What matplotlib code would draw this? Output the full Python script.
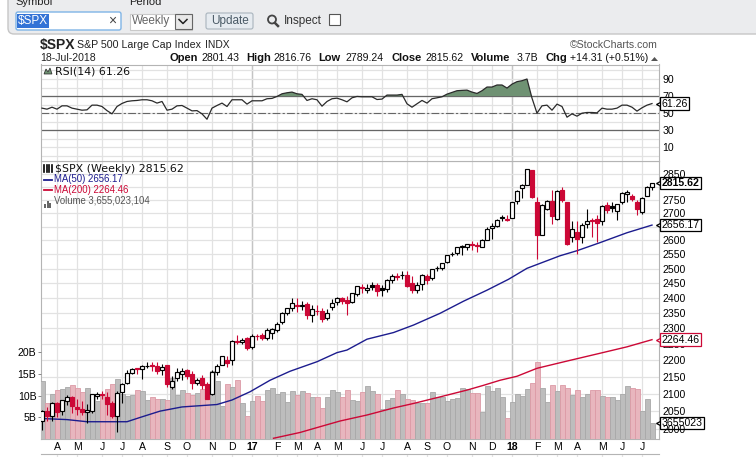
import matplotlib
matplotlib.use('agg')
import matplotlib.pyplot as plt
import numpy as np
from matplotlib.patches import FancyBboxPatch, Rectangle, Circle, Polygon

plt.rcParams['font.family'] = ['Liberation Sans', 'DejaVu Sans']

# weekly candles, $SPX
opens = [2022, 2049, 2037, 2073, 2050, 2078, 2090, 2063, 2057, 2047,
         2051, 2095, 2100, 2091, 2073, 2037, 2104, 2132, 2163, 2177,
         2173, 2183, 2186, 2184, 2171, 2187, 2120, 2148, 2160, 2170,
         2160, 2133, 2148, 2130, 2100, 2165, 2186, 2200, 2200, 2260,
         2258, 2270, 2241, 2277, 2278, 2271, 2286, 2294, 2320, 2350,
         2365, 2376, 2374, 2381, 2345, 2358, 2357, 2335, 2369, 2388,
         2400, 2393, 2387, 2414, 2437, 2425, 2445, 2442, 2432, 2429,
         2462, 2475, 2478, 2479, 2450, 2428, 2447, 2475, 2467, 2503,
         2503, 2523, 2551, 2554, 2578, 2578, 2588, 2582, 2578, 2603,
         2645, 2652, 2685, 2680, 2684, 2745, 2798, 2810, 2867, 2741,
         2621, 2715, 2745, 2680, 2791, 2742, 2611, 2629, 2611, 2660,
         2675, 2680, 2670, 2731, 2727, 2708, 2742, 2775, 2765, 2743,
         2705, 2764, 2802]
highs = [2052, 2062, 2076, 2075, 2083, 2096, 2095, 2084, 2080, 2070,
         2100, 2105, 2107, 2104, 2078, 2108, 2132, 2170, 2178, 2178,
         2187, 2194, 2194, 2195, 2188, 2187, 2152, 2176, 2176, 2173,
         2169, 2148, 2155, 2135, 2170, 2190, 2215, 2215, 2262, 2278,
         2270, 2274, 2283, 2283, 2285, 2301, 2300, 2320, 2352, 2368,
         2401, 2400, 2391, 2385, 2375, 2378, 2366, 2362, 2398, 2403,
         2403, 2406, 2416, 2440, 2446, 2446, 2453, 2450, 2445, 2463,
         2481, 2484, 2491, 2491, 2475, 2453, 2480, 2480, 2500, 2508,
         2520, 2549, 2557, 2575, 2584, 2588, 2598, 2593, 2604, 2650,
         2665, 2679, 2695, 2695, 2743, 2790, 2812, 2873, 2868, 2763,
         2735, 2750, 2790, 2790, 2802, 2742, 2670, 2672, 2665, 2717,
         2684, 2695, 2732, 2743, 2742, 2736, 2780, 2791, 2775, 2750,
         2763, 2804, 2817]
lows = [1998, 2022, 2023, 2033, 2039, 2068, 2045, 2039, 2039, 2016,
        2045, 2085, 2086, 2040, 2030, 1992, 2072, 2130, 2158, 2158,
        2145, 2176, 2168, 2160, 2155, 2119, 2115, 2139, 2140, 2145,
        2115, 2125, 2115, 2084, 2096, 2155, 2186, 2180, 2187, 2250,
        2252, 2233, 2234, 2262, 2265, 2262, 2268, 2290, 2316, 2345,
        2357, 2355, 2360, 2330, 2322, 2345, 2322, 2328, 2360, 2378,
        2381, 2345, 2382, 2405, 2415, 2415, 2425, 2405, 2407, 2420,
        2450, 2462, 2465, 2437, 2417, 2417, 2428, 2447, 2460, 2490,
        2496, 2520, 2545, 2547, 2547, 2566, 2566, 2557, 2575, 2602,
        2605, 2650, 2673, 2673, 2682, 2737, 2758, 2808, 2759, 2533,
        2620, 2713, 2660, 2675, 2741, 2585, 2594, 2553, 2590, 2646,
        2613, 2594, 2655, 2703, 2705, 2676, 2735, 2743, 2748, 2692,
        2698, 2764, 2789]
closes = [2049, 2036, 2073, 2048, 2081, 2092, 2065, 2057, 2047, 2052,
          2099, 2099.1, 2096, 2071, 2037, 2103, 2130, 2162, 2175, 2174,
          2183, 2184, 2183.9, 2169, 2180, 2128, 2139, 2165, 2168, 2154,
          2133, 2141, 2126, 2085, 2164, 2182, 2213, 2192, 2260, 2258,
          2264, 2239, 2277, 2275, 2271, 2295, 2297, 2316, 2351, 2367,
          2383, 2373, 2378, 2344, 2363, 2356, 2329, 2349, 2384, 2399,
          2391, 2382, 2416, 2439, 2432, 2433, 2438, 2423, 2425, 2459,
          2473, 2472, 2477, 2441, 2426, 2443, 2477, 2461, 2500, 2502,
          2519, 2549, 2553, 2575, 2581, 2588, 2582, 2579, 2602, 2642,
          2652, 2676, 2683, 2674, 2743, 2786, 2810, 2873, 2762, 2620,
          2732, 2747, 2691, 2787, 2752, 2588, 2641, 2604, 2656, 2670.14,
          2669.91, 2663, 2728, 2713, 2721, 2735, 2779, 2780, 2755, 2718,
          2760, 2801, 2815.62]
volumes = [13.4, 8.2, 10.5, 11.3, 11.5, 11.9, 12.4, 11.8, 10.8, 11.7,
           10.5, 8.8, 10.2, 11.5, 12.7, 13.8, 10.4, 10.0, 10.2, 11.4,
           11.2, 9.0, 9.7, 9.2, 9.3, 9.1, 14.0, 10.2, 11.4, 10.6,
           10.2, 10.6, 11.6, 12.8, 15.8, 13.5, 7.7, 12.8, 12.0, 13.7,
           8.3, 5.4, 8.8, 10.0, 8.8, 11.4, 11.8, 10.5, 10.8, 8.5,
           11.0, 10.2, 11.0, 10.6, 9.6, 9.7, 7.2, 9.7, 11.4, 10.8,
           9.7, 11.4, 9.1, 8.8, 10.8, 12.2, 11.2, 10.5, 6.9, 9.1,
           9.5, 11.4, 10.4, 9.2, 9.1, 8.2, 8.3, 8.3, 10.8, 9.8,
           9.6, 8.8, 9.2, 9.5, 11.8, 11.5, 10.6, 10.6, 6.2, 12.3,
           11.2, 11.8, 9.7, 4.8, 8.5, 10.4, 10.0, 11.5, 12.9, 17.8,
           11.8, 8.5, 12.5, 11.0, 12.5, 11.8, 10.2, 11.3, 9.7, 10.4,
           11.3, 11.3, 9.9, 9.7, 9.7, 9.0, 10.4, 12.2, 11.8, 11.5,
           6.5, 9.2, 3.655]
rsi = [55.9, 54.7, 57.0, 54.7, 58.6, 58.6, 55.9, 54.7, 53.5, 53.9,
       59.4, 59.4, 57.8, 53.0, 49.2, 57.8, 61.4, 63.7, 64.5, 64.9,
       65.7, 65.7, 64.5, 61.8, 63.7, 53.5, 54.7, 58.6, 59.0, 55.9,
       52.7, 53.0, 49.2, 42.9, 55.9, 59.0, 61.8, 57.8, 65.7, 65.7,
       65.7, 60.6, 64.5, 64.5, 64.5, 66.9, 67.3, 69.6, 72.7, 73.9,
       74.7, 72.7, 72.0, 64.9, 66.9, 65.7, 58.2, 63.7, 66.9, 67.6,
       65.7, 63.3, 68.0, 69.6, 69.2, 69.2, 69.2, 66.0, 66.5, 71.2,
       71.2, 71.2, 72.0, 61.0, 57.0, 61.0, 64.9, 61.8, 66.9, 68.0,
       69.2, 72.3, 74.3, 76.3, 76.7, 77.0, 74.7, 73.1, 76.3, 80.6,
       80.6, 83.0, 83.0, 79.4, 84.0, 86.9, 88.0, 90.0, 67.6, 50.0,
       58.6, 59.4, 53.5, 60.6, 57.8, 45.3, 49.2, 46.5, 50.0, 50.8,
       50.8, 50.4, 55.9, 54.7, 54.7, 55.9, 59.4, 59.4, 57.0, 52.4,
       56.3, 59.4, 61.26]

ma50_x = [0, 5, 9, 15, 17, 19.6, 23.6, 28, 35, 38, 41.6, 45.6, 49.6, 55, 59, 61, 65,
          70.3, 74.3, 79.6, 84.3, 89, 93.3, 97, 103.6, 107, 111.6, 117, 122]
ma50 = [2029, 2026, 2020, 2020, 2020, 2032, 2050, 2062, 2069, 2082, 2106, 2140, 2167,
        2196, 2224, 2232, 2266, 2287, 2311, 2349, 2389, 2426, 2463, 2501, 2545, 2563,
        2592, 2628, 2656.17]
ma200_x = [46.3, 48.3, 51.6, 55.6, 59.6, 65, 70.3, 74.3, 79.6, 85, 88.3, 91.6, 95, 99,
           105, 111.6, 117, 122]
ma200 = [1974, 1980, 1990, 2006, 2022, 2039, 2059, 2072, 2091, 2111, 2125, 2140, 2152,
         2176, 2198, 2222, 2242, 2264.46]

month_pos = [3, 7, 12, 16, 20, 25, 29, 34, 38, 42, 47, 51, 55, 59, 64, 68, 73, 77, 81,
             86, 90, 94, 99, 103, 107, 112, 116, 120]
month_labels = ['A', 'M', 'J', 'J', 'A', 'S', 'O', 'N', 'D', '17', 'F', 'M', 'A', 'M',
                'J', 'J', 'A', 'S', 'O', 'N', 'D', '18', 'F', 'M', 'A', 'M', 'J', 'J']
price_ticks = [2000, 2050, 2100, 2150, 2200, 2250, 2300, 2350, 2400, 2450, 2500, 2550,
               2600, 2650, 2700, 2750, 2800, 2850]
price_labels = ['2000', '2050', '2100', '2150', '2200', '2250', '2300', '2350', '2400', '2450',
                '2500', '2550', '2600', '', '2700', '2750', '', '2850']
vol_ticks = [5, 10, 15, 20]
vol_labels = ['5B', '10B', '15B', '20B']
rsi_ticks = [10, 30, 50, 70, 90]

W, H = 756, 457
fig = plt.figure(figsize=(W / 100, H / 100), dpi=100, facecolor='white')


def px_axes(x0, y0, x1, y1, **kw):
    # axes placed in pixel coords, y measured from the top
    return fig.add_axes([x0 / W, 1 - y1 / H, (x1 - x0) / W, (y1 - y0) / H], **kw)


L, R = 40.5, 658.5
xlim = (-0.3, 123.3)
x = np.arange(len(closes))
opens = np.array(opens, float)
closes = np.array(closes, float)
highs = np.array(highs, float)
lows = np.array(lows, float)
volumes = np.array(volumes)
prev = np.r_[closes[0] - 1, closes[:-1]]
is_up = closes >= prev
hollow = closes > opens
GRID = '#e2e2e2'
FRAME = '#b4b4b4'
RED = '#cc0836'
BLUE = '#1c1c8e'
TXT = 7.6

# page chrome in pixel coords
ui = fig.add_axes([0, 0, 1, 1], zorder=0)
ui.set_xlim(0, W)
ui.set_ylim(H, 0)
ui.axis('off')
ui.add_patch(FancyBboxPatch((8, -20), 760, 54, boxstyle='round,pad=0,rounding_size=6',
                            fc='#ebecee', ec='#c6c6c6', lw=1))
ui.text(15, 2, 'Symbol', fontsize=8, va='center', color='#222222')
ui.text(129, 2, 'Period', fontsize=8, va='center', color='#222222')
ui.add_patch(FancyBboxPatch((16, 12), 105, 18, boxstyle='round,pad=0,rounding_size=2',
                            fc='white', ec='#7fb4e6', lw=1))
ui.add_patch(Rectangle((17, 14), 32, 14, fc='#3373d6', ec='none'))
ui.text(18, 21, '$SPX', fontsize=8.5, color='white', va='center', parse_math=False)
ui.text(112, 21, '×', fontsize=10, color='#444444', ha='center', va='center')
ui.add_patch(Rectangle((129.5, 13.5), 62, 16, fc='white', ec='#c9c9c9', lw=0.8))
ui.text(132, 21, 'Weekly', fontsize=8.5, color='#666666', va='center')
ui.add_patch(Rectangle((174.5, 13.5), 17, 15, fc='#e8e8e8', ec='#666666', lw=0.8))
ui.plot([179, 183, 187], [19.5, 23.5, 19.5], color='#222222', lw=1.1)
ui.add_patch(FancyBboxPatch((206, 13), 47, 16, boxstyle='round,pad=0,rounding_size=2',
                            fc='#e6ebf0', ec='#a9b4bd', lw=0.8))
ui.text(229.5, 21, 'Update', fontsize=8.5, color='#4a5a66', ha='center', va='center')
ui.add_patch(Circle((272, 19.5), 4, fc='none', ec='#444444', lw=1.3))
ui.plot([275, 278], [23, 26], color='#444444', lw=1.8)
ui.text(284, 21, 'Inspect', fontsize=8.5, color='#333333', va='center')
ui.add_patch(Rectangle((329, 14), 11, 11, fc='white', ec='#555555', lw=0.8))

ui.text(40, 45, '$SPX', fontsize=10, fontweight='bold', va='center', color='#222222', parse_math=False)
ui.text(77, 45, 'S&P 500 Large Cap Index', fontsize=7.7, va='center', color='#222222')
ui.text(205, 45, 'INDX', fontsize=7.4, va='center', color='#222222')
ui.text(40, 58, '18-Jul-2018', fontsize=TXT, va='center', color='#222222')
header = [(170, 'Open', True), (202, '2801.43', False), (246, 'High', True), (273, '2816.76', False),
          (318, 'Low', True), (345, '2789.24', False), (391, 'Close', True), (425, '2815.62', False),
          (471, 'Volume', True), (517, '3.7B', False), (545, 'Chg', True), (570, '+14.31 (+0.51%)', False)]
for hx, txt, bold in header:
    ui.text(hx, 58, txt, fontsize=8 if bold else TXT, fontweight='bold' if bold else 'normal',
            va='center', color='#111111')
ui.add_patch(Polygon([[651, 61], [658, 61], [654.5, 57]], fc='#555555', ec='none'))
ui.text(658, 45, '©StockCharts.com', fontsize=7.6, ha='right', va='center', color='#555555')

# rsi panel
ax_r = px_axes(L, 64.5, R, 161, zorder=2)
ax_r.set_xlim(xlim)
ax_r.set_ylim(-6, 107)
ax_r.vlines(month_pos, -6, 107, color=GRID, lw=0.9, zorder=0)
ax_r.vlines([42, 94], -6, 107, color='#c4c4c4', lw=1, zorder=0)
ax_r.hlines(np.arange(0, 101, 10), *xlim, color=GRID, lw=0.9, zorder=0)
ax_r.hlines([30, 70], *xlim, color='#666666', lw=0.9, zorder=1)
ax_r.hlines(50, *xlim, color='#666666', lw=0.8, linestyles=(0, (7, 2, 2, 2)), zorder=1)
ax_r.fill_between(x, 70, rsi, where=np.array(rsi) >= 70, interpolate=True, color='#6f9273', lw=0, zorder=2)
ax_r.plot(x, rsi, color='#2a2a2a', lw=0.9, zorder=3)
ax_r.set_xticks([])
ax_r.yaxis.tick_right()
ax_r.set_yticks(rsi_ticks)
ax_r.tick_params(axis='y', length=0, pad=3, labelsize=TXT)
for s in ax_r.spines.values():
    s.set_color(FRAME)
ax_r.text(0.0235, 0.93, 'RSI(14) 61.26', transform=ax_r.transAxes, fontsize=7.9, va='center',
          family='DejaVu Sans', color='#111111')
rsi_icon = [[44, 74], [46, 69], [48, 72], [50, 68], [52, 74]]

# grid behind the volume bars
ax_g = px_axes(L, 161, R, 439, zorder=1)
ax_g.set_yscale('log')
ax_g.set_xlim(xlim)
ax_g.set_ylim(1972, 2904)
ax_g.vlines(month_pos, 1972, 2904, color=GRID, lw=0.9)
ax_g.vlines([42, 94], 1972, 2904, color='#c4c4c4', lw=1)
ax_g.hlines(price_ticks, *xlim, color=GRID, lw=0.9)
ax_g.set_xticks(month_pos)
ax_g.set_xticklabels(month_labels)
ax_g.tick_params(axis='x', length=0, pad=2, labelsize=TXT)
for lab, txt in zip(ax_g.get_xticklabels(), month_labels):
    if txt in ('17', '18'):
        lab.set_fontweight('bold')
ax_g.set_yticks([])
ax_g.minorticks_off()
for s in ax_g.spines.values():
    s.set_color(FRAME)

# volume
ax_v = px_axes(L, 161, R, 439, zorder=2)
ax_v.patch.set_alpha(0)
ax_v.set_xlim(xlim)
ax_v.set_ylim(0, 64.2)
ax_v.bar(x, volumes, width=1.0, color=np.where(is_up, '#bdbdbd', '#e8b6be'),
         edgecolor=np.where(is_up, '#a8a8a8', '#dc9aa6'), lw=0.6)
ax_v.set_xticks([])
ax_v.set_yticks(vol_ticks)
ax_v.set_yticklabels(vol_labels)
ax_v.tick_params(axis='y', length=2, width=0.7, color='#888888', pad=1, labelsize=TXT)
for s in ax_v.spines.values():
    s.set_visible(False)

# candles and moving averages
ax_p = px_axes(L, 161, R, 439, zorder=3)
ax_p.patch.set_alpha(0)
ax_p.set_yscale('log')
ax_p.set_xlim(xlim)
ax_p.set_ylim(1972, 2904)
ax_p.plot(ma50_x, ma50, color=BLUE, lw=1.0, zorder=2)
ax_p.plot(ma200_x, ma200, color=RED, lw=1.0, zorder=2)
colors = np.where(is_up, 'black', RED)
ax_p.vlines(x, lows, highs, color=colors, lw=0.8, zorder=3)
faces = [('white' if h else c) for h, c in zip(hollow, colors)]
ax_p.bar(x, np.abs(closes - opens), bottom=np.minimum(opens, closes), width=0.72,
         color=faces, edgecolor=colors, lw=0.85, zorder=4)
ax_p.set_xticks([])
ax_p.minorticks_off()
ax_p.yaxis.tick_right()
ax_p.set_yticks(price_ticks)
ax_p.set_yticklabels(price_labels)
ax_p.minorticks_off()
ax_p.tick_params(axis='y', length=0, pad=3, labelsize=TXT)
for s in ax_p.spines.values():
    s.set_visible(False)


def price_tag(ax, y, text, color='black', bold=False):
    # last value box on the right edge, with a small pointer
    trans = ax.get_yaxis_transform()
    ax.plot([1.0], [y], marker='<', ms=5, mfc='white', mec=color, mew=0.9, transform=trans,
            clip_on=False, zorder=9)
    ax.text(1.005, y, text, transform=trans, fontsize=TXT, va='center', ha='left', clip_on=False,
            fontweight='bold' if bold else 'normal', color='black', zorder=10,
            bbox=dict(boxstyle='square,pad=0.12', fc='white', ec=color, lw=0.9))


price_tag(ax_r, 61.26, '61.26')
price_tag(ax_p, 2815.62, '2815.62', bold=True)
price_tag(ax_p, 2656.17, '2656.17')
price_tag(ax_p, 2264.46, '2264.46', color=RED)
price_tag(ax_v, 3.655, '3655023')

# legend block
top = fig.add_axes([0, 0, 1, 1], zorder=5)
top.set_xlim(0, W)
top.set_ylim(H, 0)
top.axis('off')
top.patch.set_alpha(0)
top.add_patch(Polygon(rsi_icon, fc='#6f9273', ec='#222222', lw=0.5))
top.text(55, 168.5, '$SPX (Weekly) 2815.62', fontsize=7.9, family='DejaVu Sans', va='center',
         color='#111111', parse_math=False)
for lx in (44, 46.5, 49, 51.5):
    top.plot([lx, lx], [165, 172], color='black', lw=1.2)
top.plot([44, 52], [179.5, 179.5], color=BLUE, lw=1.3)
top.text(53.5, 179.5, 'MA(50) 2656.17', fontsize=6.9, color=BLUE, va='center')
top.plot([44, 52], [190, 190], color=RED, lw=1.3)
top.text(53.5, 190, 'MA(200) 2264.46', fontsize=6.9, color=RED, va='center')
top.bar([45, 47.5, 50], [4, 7, 5], bottom=[204, 201, 203], width=2, color='#666666')
top.text(53.5, 200.5, 'Volume 3,655,023,104', fontsize=6.9, color='#555555', va='center')

# strip under the date labels
ax_b = px_axes(L, 453.5, R, 457, zorder=1)
ax_b.set_xlim(xlim)
ax_b.set_ylim(0, 1)
ax_b.vlines(month_pos, 0, 1, color=GRID, lw=0.9)
ax_b.set_xticks([])
ax_b.set_yticks([])
for name, s in ax_b.spines.items():
    s.set_visible(name == 'top')
    s.set_color(FRAME)
    s.set_linestyle((0, (1, 1)))

fig.savefig('out.png', dpi=100)
